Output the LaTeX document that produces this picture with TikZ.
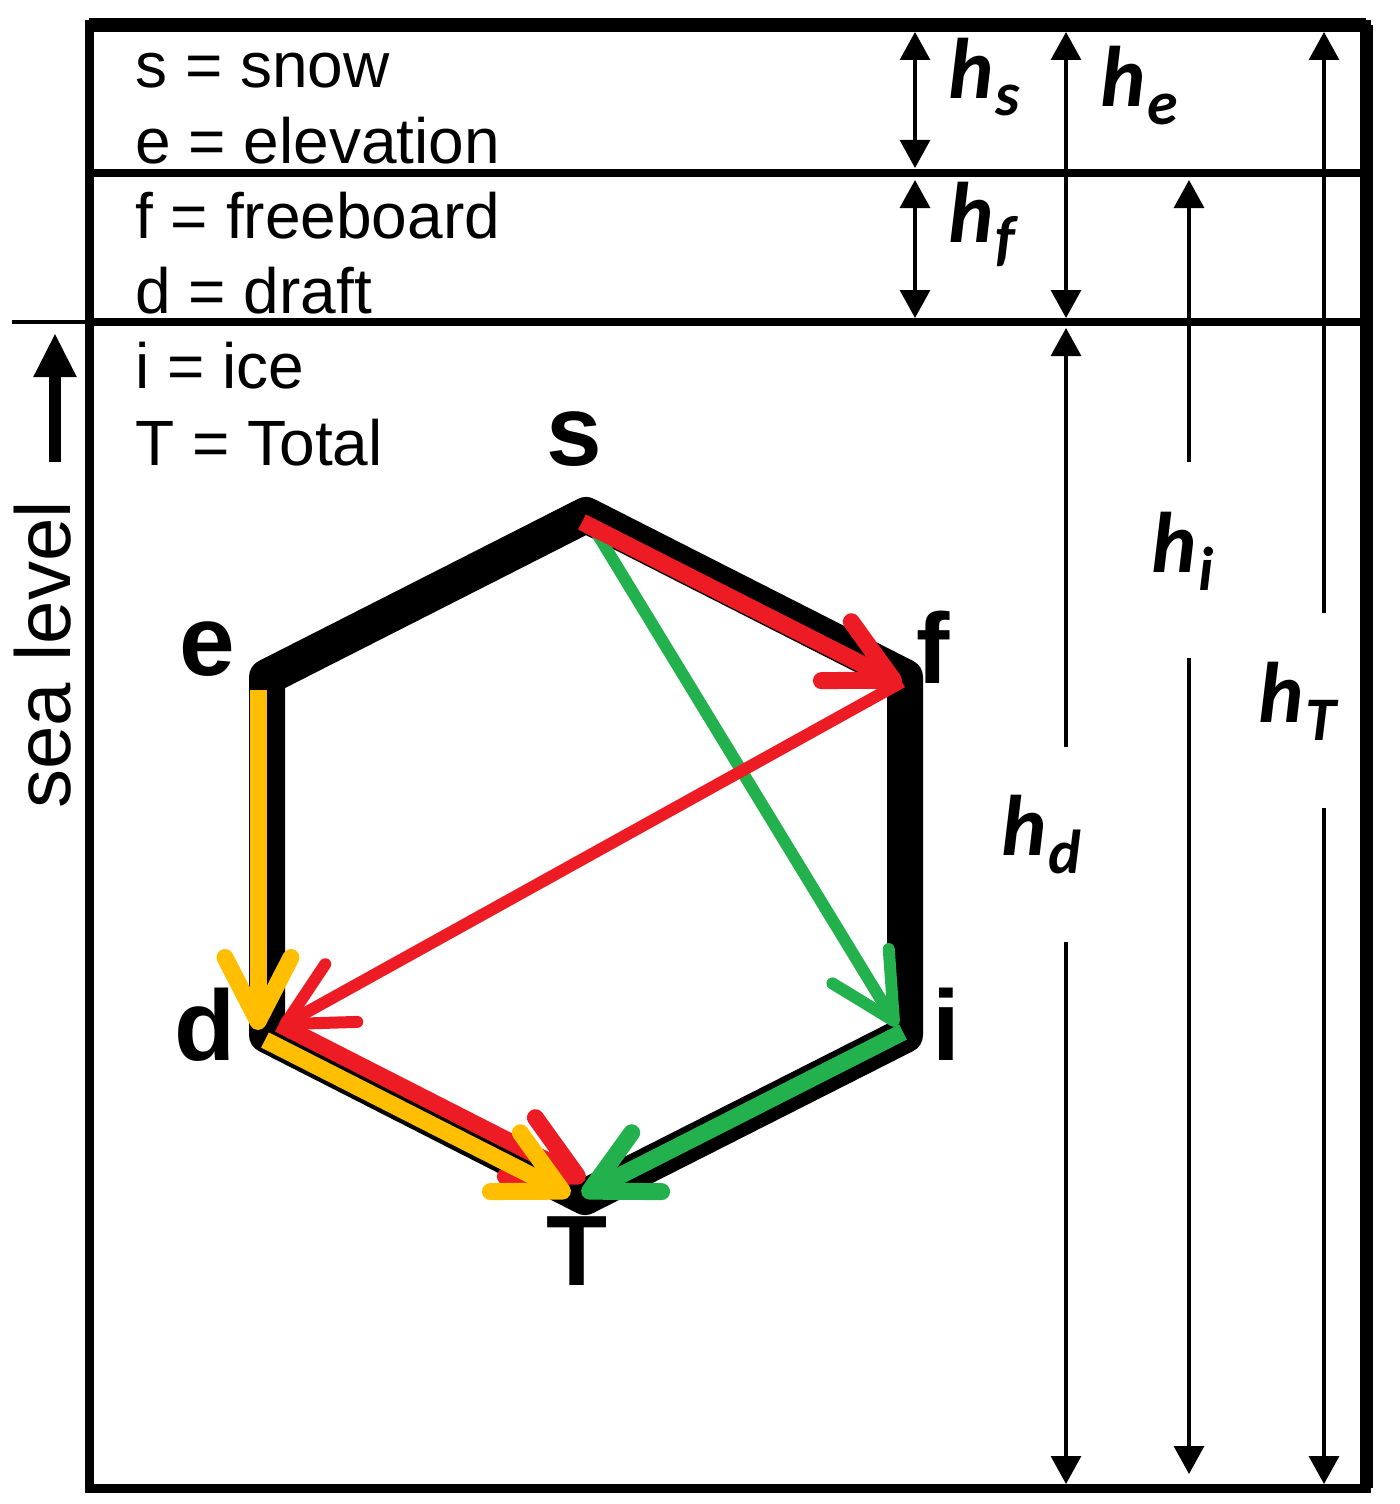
\documentclass[tikz,border=0pt]{standalone}
\usepackage{fontspec}
\setmainfont{Liberation Sans}
\newfontfamily\hfont{Carlito}
\usetikzlibrary{arrows.meta}
\definecolor{cred}{HTML}{ED1C24}
\definecolor{cgreen}{HTML}{22B14C}
\definecolor{cyellow}{HTML}{FFBF00}
\newcommand\hsub[1]{{\hfont\itshape\bfseries\fontsize{43}{43}\selectfont h}\kern1pt\raisebox{-9pt}{\hfont\itshape\bfseries\fontsize{31}{31}\selectfont #1}}
\begin{document}
\begin{tikzpicture}[x=0.5pt,y=-0.5pt,
  legend/.style={anchor=base west, inner sep=0, font=\fontsize{32}{32}\selectfont},
  vlabel/.style={anchor=base, inner sep=0, font=\fontsize{50}{50}\selectfont\bfseries},
  dimline/.style={line width=1.6pt},
  hlab/.style={anchor=base west, inner sep=0},
  colarrow/.style={line width=8.5pt, -{Straight Barb[length=32pt,width=33pt,round]}},
  diagarrow/.style={line width=6pt, -{Straight Barb[length=32pt,width=33pt,round]}},
  hexedge/.style={line width=18pt, line join=round}
]
\useasboundingbox (0,0) rectangle (1400,1504);
% frame
\coordinate (TL) at (89,25); \coordinate (TR) at (1366,25);
\coordinate (BL) at (89,1488); \coordinate (BR) at (1366,1488);
\draw[line width=4.5pt] (TL) rectangle (BR);
\draw[line width=7pt] (TL) -- (TR);
\draw[line width=6.5pt] (TR) -- (BR);
\coordinate (L1) at (89,173); \coordinate (R1) at (1366,173);
\coordinate (L2) at (89,322); \coordinate (R2) at (1366,322);
\coordinate (SL) at (12,322);
\draw[line width=4pt] (L1) -- (R1);
\draw[line width=4pt] (L2) -- (R2);
\draw[line width=2pt] (SL) -- (L2);
% sea level
\coordinate (sa1) at (55,462); \coordinate (sa2) at (55,333);
\draw[line width=6pt, -{Triangle[length=22pt,width=20pt]}] (sa1) -- (sa2);
\node[rotate=90, anchor=base, inner sep=0, font=\fontsize{39}{39}\selectfont] (sl) at (70,655) {sea level};
% legend
\node[legend] (l1) at (135,88) {s = snow};
\node[legend] (l2) at (135,163) {e = elevation};
\node[legend] (l3) at (135,238) {f = freeboard};
\node[legend] (l4) at (135,313) {d = draft};
\node[legend] (l5) at (135,388) {i = ice};
\node[legend] (l6) at (135,465) {T = Total};
% dimension lines
\tikzset{dt/.tip={Triangle[length=14pt,width=15pt]}}
\coordinate (hs1) at (915,32); \coordinate (hs2) at (915,168);
\coordinate (hf1) at (915,180); \coordinate (hf2) at (915,318);
\coordinate (he1) at (1066,32); \coordinate (he2) at (1066,318);
\coordinate (hd1) at (1066,328); \coordinate (hd2) at (1066,747);
\coordinate (hd3) at (1066,942); \coordinate (hd4) at (1066,1484);
\coordinate (hi1) at (1189,180); \coordinate (hi2) at (1189,462);
\coordinate (hi3) at (1189,658); \coordinate (hi4) at (1189,1474);
\coordinate (hT1) at (1324,32); \coordinate (hT2) at (1324,613);
\coordinate (hT3) at (1324,808); \coordinate (hT4) at (1324,1484);
\draw[dimline, dt-dt] (hs1) -- (hs2);
\draw[dimline, dt-dt] (hf1) -- (hf2);
\draw[dimline, dt-dt] (he1) -- (he2);
\draw[dimline, dt-] (hd1) -- (hd2);
\draw[dimline, -dt] (hd3) -- (hd4);
\draw[dimline, dt-] (hi1) -- (hi2);
\draw[dimline, -dt] (hi3) -- (hi4);
\draw[dimline, dt-] (hT1) -- (hT2);
\draw[dimline, -dt] (hT3) -- (hT4);
\node[hlab] (lhs) at (948,98) {\hsub{s}};
\node[hlab] (lhe) at (1100,107) {\hsub{e}};
\node[hlab] (lhf) at (948,242) {\hsub{f}};
\node[hlab] (lhi) at (1151,572) {\hsub{i}};
\node[hlab] (lhT) at (1258,722) {\hsub{T}};
\node[hlab] (lhd) at (1001,855) {\hsub{d}};
% hexagon
\coordinate (s) at (586,515); \coordinate (f) at (905,677);
\coordinate (i) at (905,1035); \coordinate (T) at (585,1197);
\coordinate (d) at (267,1035); \coordinate (e) at (267,677);
\draw[hexedge] (s) -- (f) -- (i) -- (T) -- (d) -- (e) -- cycle;
% coloured arrows
\coordinate (ye1) at (258,690); \coordinate (ye2) at (258,1030);
\coordinate (rf1) at (902,682); \coordinate (rf2) at (280,1027);
\coordinate (rd1) at (279,1024); \coordinate (rd2) at (585,1180);
\coordinate (yd1) at (265,1040); \coordinate (yd2) at (570,1195);
\coordinate (gs1) at (590,522); \coordinate (gs2) at (897,1026);
\coordinate (gi1) at (903,1032); \coordinate (gi2) at (582,1195);
\coordinate (rs1) at (582,522); \coordinate (rs2) at (901,684);
\draw[colarrow, cyellow] (ye1) -- (ye2);
\draw[diagarrow, cgreen] (gs1) -- (gs2);
\draw[diagarrow, cred] (rf1) -- (rf2);
\draw[colarrow, cred] (rd1) -- (rd2);
\draw[colarrow, cyellow] (yd1) -- (yd2);
\draw[colarrow, cgreen] (gi1) -- (gi2);
\draw[colarrow, cred] (rs1) -- (rs2);
% vertex labels
\node[vlabel] (ls) at (574,465) {s};
\node[vlabel] (le) at (207,675) {e};
\node[vlabel] (lf) at (933,683) {f};
\node[vlabel] (li) at (946,1060) {i};
\node[vlabel] (ld) at (205,1060) {d};
\node[vlabel] (lT) at (577,1285) {T};
\end{tikzpicture}
\end{document}
